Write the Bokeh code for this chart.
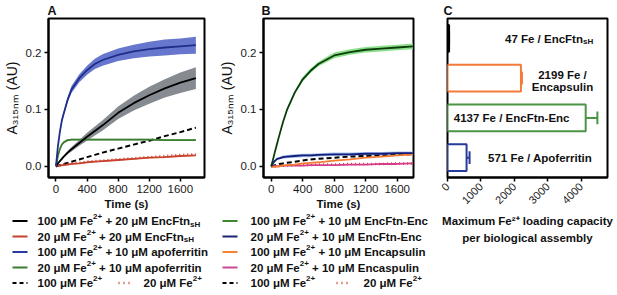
from math import pi
from bokeh.plotting import figure
from bokeh.models import (Range1d, FactorRange, Label, FixedTicker, Title,
                          PrintfTickFormatter, ColumnDataSource)
from bokeh.layouts import row, column
from bokeh.transform import dodge
from bokeh.embed import file_html
from bokeh.resources import INLINE

# ---------------------------------------------------------------- data
t = [0, 25, 50, 75, 100, 150, 200, 300, 400, 500, 600, 800, 1000, 1200, 1400, 1600, 1800]

# panel A
a_fe100_enc = [0, 0.005, 0.009, 0.013, 0.017, 0.024, 0.030, 0.041, 0.052, 0.062, 0.072, 0.094, 0.111, 0.125, 0.137, 0.147, 0.155]
a_fe100_enc_sd = [0, 0.001, 0.001, 0.002, 0.002, 0.003, 0.004, 0.005, 0.007, 0.008, 0.009, 0.011, 0.013, 0.015, 0.016, 0.018, 0.019]
a_fe20_enc = [0, 0.001, 0.001, 0.002, 0.002, 0.003, 0.004, 0.005, 0.007, 0.008, 0.009, 0.011, 0.013, 0.015, 0.016, 0.018, 0.019]
a_fe20_enc_sd = [0, 0.0005, 0.0005, 0.0005, 0.0005, 0.001, 0.001, 0.001, 0.001, 0.001, 0.001, 0.001, 0.001, 0.001, 0.001, 0.001, 0.001]
a_fe100_apo = [0, 0.035, 0.060, 0.080, 0.093, 0.117, 0.135, 0.155, 0.169, 0.180, 0.187, 0.196, 0.202, 0.206, 0.209, 0.211, 0.213]
a_fe100_apo_sd = [0, 0.002, 0.003, 0.004, 0.004, 0.005, 0.006, 0.007, 0.008, 0.009, 0.010, 0.011, 0.012, 0.013, 0.014, 0.014, 0.015]
a_fe20_apo = [0, 0.018, 0.030, 0.038, 0.042, 0.046, 0.047, 0.047, 0.047, 0.047, 0.047, 0.047, 0.047, 0.047, 0.046, 0.046, 0.046]
a_fe20_apo_sd = [0, 0.001, 0.0015, 0.0015, 0.0015, 0.0015, 0.0015, 0.0015, 0.0015, 0.0015, 0.0015, 0.0015, 0.0015, 0.0015, 0.0015, 0.0015, 0.0015]
a_fe100 = [0, 0.001, 0.002, 0.003, 0.004, 0.006, 0.008, 0.012, 0.016, 0.020, 0.024, 0.031, 0.038, 0.045, 0.053, 0.060, 0.068]
a_fe20 = [0, 0.001, 0.001, 0.002, 0.003, 0.004, 0.005, 0.006, 0.008, 0.009, 0.010, 0.012, 0.014, 0.016, 0.018, 0.020, 0.021]

# panel B
b_fe100_ee = [0, 0.013, 0.027, 0.040, 0.053, 0.078, 0.099, 0.130, 0.153, 0.168, 0.180, 0.195, 0.201, 0.205, 0.207, 0.209, 0.211]
b_fe100_ee_sd = [0, 0.001, 0.001, 0.002, 0.002, 0.002, 0.003, 0.003, 0.004, 0.004, 0.004, 0.005, 0.005, 0.005, 0.005, 0.005, 0.005]
b_fe20_ee = [0, 0.006, 0.010, 0.013, 0.014, 0.016, 0.017, 0.018, 0.019, 0.019, 0.020, 0.021, 0.021, 0.022, 0.022, 0.023, 0.023]
b_fe20_ee_sd = [0, 0.001, 0.002, 0.002, 0.002, 0.003, 0.003, 0.003, 0.003, 0.003, 0.003, 0.003, 0.003, 0.003, 0.003, 0.003, 0.003]
b_fe100_encap = [-0.001, -0.001, -0.001, 0, 0, 0.001, 0.002, 0.003, 0.005, 0.006, 0.007, 0.010, 0.012, 0.015, 0.017, 0.019, 0.021]
b_fe20_encap = [0, 0, 0, 0, 0, 0.001, 0.001, 0.001, 0.001, 0.002, 0.002, 0.002, 0.003, 0.003, 0.004, 0.004, 0.005]
b_fe100 = [0, 0.001, 0.002, 0.003, 0.004, 0.005, 0.006, 0.008, 0.010, 0.012, 0.013, 0.015, 0.017, 0.018, 0.019, 0.020, 0.021]
b_fe20 = [0, 0, 0, 0.001, 0.001, 0.001, 0.001, 0.002, 0.002, 0.002, 0.003, 0.003, 0.004, 0.004, 0.004, 0.005, 0.005]

time_ticks = [0, 400, 800, 1200, 1600]
abs_ticks = [0.0, 0.1, 0.2]

# panel C
c_cats = ["Apoferritin", "EncFtn-Enc", "Encapsulin", "EncFtnsH"]
c_loads = [571, 4137, 2199, 47]
c_errs = [90, 350, 30, 0]
c_ticks = [0, 1000, 2000, 3000, 4000]

# ---------------------------------------------------------------- styles
FONT = "Liberation Sans"
TS = 11.5
SS = 8
TXT = "#111111"
FE_SUP = "Fe\u00b2\u207a"

BOLD_W = {" ": 278, "(": 333, ")": 333, "+": 584, "-": 333, ".": 278, "/": 278,
          "A": 722, "E": 667, "F": 611, "H": 722, "M": 833, "T": 611, "U": 722, "C": 722,
          "a": 556, "b": 611, "c": 556, "d": 611, "e": 556, "f": 333, "g": 611, "i": 278,
          "l": 278, "m": 889, "n": 611, "o": 611, "p": 611, "r": 389, "s": 556, "t": 333,
          "u": 611, "x": 556, "y": 556, "μ": 611}


def text_w(s, size):
    return sum(BOLD_W.get(ch, 556) for ch in s) * size / 1000.0


class Mapper:
    """page pixel -> data coordinates of one figure's frame"""
    def __init__(self, fx0, fx1, fy0, fy1, xr, yr):
        self.fx0, self.fx1, self.fy0, self.fy1 = fx0, fx1, fy0, fy1
        self.xr, self.yr = xr, yr

    def __call__(self, px, py):
        x = self.xr[0] + (px - self.fx0) / (self.fx1 - self.fx0) * (self.xr[1] - self.xr[0])
        y = self.yr[0] + (self.fy1 - py) / (self.fy1 - self.fy0) * (self.yr[1] - self.yr[0])
        return x, y


def rich(p, m, px, py, pieces, align="left"):
    widths = [text_w(s, TS if k == "n" else SS) for s, k in pieces]
    total = sum(widths)
    if align == "center":
        px -= total / 2
    elif align == "right":
        px -= total
    x = px
    for (s, k), w in zip(pieces, widths):
        fs = TS if k == "n" else SS
        dy = {"n": 0, "sup": -4.5, "sub": 3}[k]
        st = s.lstrip(" ")
        xs = x + (len(s) - len(st)) * BOLD_W[" "] * fs / 1000.0
        dx, dyv = m(xs, py + dy)
        p.add_layout(Label(x=dx, y=dyv, text=st, text_font=FONT,
                           text_font_size=f"{fs}px", text_font_style="bold",
                           text_baseline="middle", text_align="left", text_color=TXT))
        x += w


def set_letter(p, s, offset):
    p.title.text = s
    p.title.align = "left"
    p.title.offset = offset
    p.title.standoff = 2
    p.title.text_font = FONT
    p.title.text_font_size = "12.5px"
    p.title.text_font_style = "bold"
    p.title.text_color = TXT


def style_axes(p):
    for ax in p.axis:
        ax.major_tick_in = 0
        ax.major_tick_out = 4
        ax.minor_tick_line_color = None
        ax.axis_line_width = 2
        ax.major_tick_line_width = 1.5
        ax.major_label_text_font = FONT
        ax.major_label_text_font_size = "11.5px"
        ax.major_label_text_color = "#1a1a1a"
        ax.major_label_standoff = 3


TOP = 17
TOP_H = 212          # height of the two kinetics figures
Y0, Y1 = -0.0198, 0.26


def kinetics_fig(width, left, right, xr, letter, loff):
    p = figure(width=width, height=TOP_H, x_range=Range1d(*xr), y_range=Range1d(Y0, Y1),
               output_backend="svg", toolbar_location=None,
               min_border_left=left, min_border_right=right,
               min_border_top=TOP, min_border_bottom=TOP_H - 177)
    p.grid.visible = False
    p.outline_line_color = "black"
    p.outline_line_width = 2
    p.xaxis.ticker = FixedTicker(ticks=time_ticks)
    p.yaxis.ticker = FixedTicker(ticks=abs_ticks)
    p.yaxis.formatter = PrintfTickFormatter(format="%.1f")
    style_axes(p)
    p.xaxis.axis_label = "Time (s)"
    p.xaxis.axis_label_text_font = FONT
    p.xaxis.axis_label_text_font_size = "11.5px"
    p.xaxis.axis_label_text_font_style = "bold"
    p.xaxis.axis_label_text_color = TXT
    p.xaxis.axis_label_standoff = 2
    p.yaxis.axis_label = "A\u2083\u2081\u2085\u2099\u2098 (AU)"
    p.yaxis.axis_label_text_font = FONT
    p.yaxis.axis_label_text_font_size = "14px"
    p.yaxis.axis_label_text_font_style = "normal"
    p.yaxis.axis_label_text_color = TXT
    p.yaxis.axis_label_standoff = 3
    set_letter(p, letter, loff)
    return p


def band(p, y, sd, color, alpha):
    lo = [a - b for a, b in zip(y, sd)]
    hi = [a + b for a, b in zip(y, sd)]
    p.varea(x=t, y1=lo, y2=hi, fill_color=color, fill_alpha=alpha)


# ---------------------------------------------------------------- panel A
AX = (-96, 1911)
pa = kinetics_fig(215, 43, 11, AX, "A", -1)
band(pa, a_fe100_enc, a_fe100_enc_sd, "#7f858c", 0.95)
band(pa, a_fe100_apo, a_fe100_apo_sd, "#5668c8", 0.9)
band(pa, a_fe20_apo, a_fe20_apo_sd, "#7fb07a", 0.8)
band(pa, a_fe20_enc, a_fe20_enc_sd, "#e08a7a", 0.8)
pa.line(t, a_fe100, line_color="black", line_width=2, line_dash="5 3")
pa.line(t, a_fe20, line_color="#c8412c", line_width=2.5, line_dash="1 3")
pa.line(t, a_fe20_enc, line_color="#c8412c", line_width=1.8)
pa.line(t, a_fe20_apo, line_color="#3b7d30", line_width=1.8)
pa.line(t, a_fe100_enc, line_color="black", line_width=1.8)
pa.line(t, a_fe100_apo, line_color="#1f2e8a", line_width=1.8)

# ---------------------------------------------------------------- panel B
BX = (-98, 1807)
pb = kinetics_fig(217, 42, 19, BX, "B", -2)
band(pb, b_fe100_ee, b_fe100_ee_sd, "#86de86", 0.95)
band(pb, b_fe20_ee, b_fe20_ee_sd, "#9fbfee", 0.95)
pb.line(t, b_fe100, line_color="black", line_width=2, line_dash="5 3")
pb.line(t, b_fe20, line_color="#c8412c", line_width=2.5, line_dash="1 3")
pb.line(t, b_fe20_encap, line_color="#d63a8a", line_width=1.8)
pb.line(t, b_fe100_encap, line_color="#f47c32", line_width=1.8)
pb.line(t, b_fe20_ee, line_color="#141c78", line_width=1.8)
pb.line(t, b_fe100_ee, line_color="#0b3d0b", line_width=1.8)

# ---------------------------------------------------------------- legends (own text panel)
LEG_H = 295 - TOP_H
lab = figure(width=432, height=LEG_H, x_range=Range1d(0, 432), y_range=Range1d(0, LEG_H),
             output_backend="svg", toolbar_location=None, x_axis_type=None, y_axis_type=None,
             min_border=0, min_border_left=0, min_border_right=0,
             min_border_top=0, min_border_bottom=0)
lab.grid.visible = False
lab.outline_line_color = None
ml = Mapper(0, 432, TOP_H, 295, (0, 432), (0, LEG_H))
rows_y = [220.5, 236, 251.5, 267, 282.5]


def sample(x0, x1, y, color, dash, lw=2):
    a = ml(x0, y)
    b = ml(x1, y)
    lab.line([a[0], b[0]], [a[1], b[1]], line_color=color, line_width=lw, line_dash=dash)


def fe(n):
    return [(f"{n} μM Fe", "n"), ("2+", "sup")]


legend_a = [
    ("#000000", fe(100) + [(" + 20 μM EncFtn", "n"), ("sH", "sub")]),
    ("#c8412c", fe(20) + [(" + 20 μM EncFtn", "n"), ("sH", "sub")]),
    ("#2b3aa0", fe(100) + [(" + 10 μM apoferritin", "n")]),
    ("#3b7d30", fe(20) + [(" + 10 μM apoferritin", "n")]),
]
legend_b = [
    ("#3b8a2e", fe(100) + [(" + 10 μM EncFtn-Enc", "n")]),
    ("#1d2473", fe(20) + [(" + 10 μM EncFtn-Enc", "n")]),
    ("#f4842f", fe(100) + [(" + 10 μM Encapsulin", "n")]),
    ("#c94b96", fe(20) + [(" + 10 μM Encaspulin", "n")]),
]
for (x_line, x_text, x_dot, x_dtext, entries) in ((12, 37, 118, 143, legend_a),
                                                  (222, 250, 336, 363, legend_b)):
    for (col, pieces), y in zip(entries, rows_y):
        sample(x_line, x_line + 15, y, col, "solid")
        rich(lab, ml, x_text, y, pieces)
    sample(x_line, x_line + 15, rows_y[4], "black", "4 3")
    rich(lab, ml, x_text, rows_y[4], fe(100))
    sample(x_dot, x_dot + 15, rows_y[4], "#c8412c", "1 4", lw=2.5)
    rich(lab, ml, x_dtext, rows_y[4], fe(20))

# ---------------------------------------------------------------- panel C
CX = (0, 4790)
pc = figure(width=185, height=295, x_range=Range1d(*CX), y_range=FactorRange(factors=c_cats),
            output_backend="svg", toolbar_location=None,
            min_border_left=15, min_border_right=10, min_border_top=TOP, min_border_bottom=118)
mc = Mapper(447, 607, TOP, 177, CX, (0, 4))
pc.grid.visible = False
pc.outline_line_color = "black"
pc.outline_line_width = 2
src = ColumnDataSource(dict(
    cat=c_cats, load=c_loads,
    upper=[a + b for a, b in zip(c_loads, c_errs)],
    color=["#273c9a", "#4b9445", "#f47a38", "#000000"],
    fill=["white", "white", "white", "#000000"]))
pc.hbar(y="cat", right="load", height=0.67, fill_color="fill", line_color="color",
        line_width=2, source=src)
pc.segment(x0="load", x1="upper", y0="cat", y1="cat", line_color="color", line_width=2, source=src)
pc.segment(x0="upper", x1="upper",
           y0=dodge("cat", -0.16, range=pc.y_range), y1=dodge("cat", 0.16, range=pc.y_range),
           line_color="color", line_width=2, source=src)
pc.xaxis.ticker = FixedTicker(ticks=c_ticks)
style_axes(pc)
pc.xaxis.major_label_orientation = pi / 4
pc.xaxis.major_label_text_font_size = "11px"
pc.yaxis.visible = False
set_letter(pc, "C", -4)

rich(pc, mc, 592.7, 37.5, [("47 Fe / EncFtn", "n"), ("sH", "sub")], align="right")
rich(pc, mc, 562, 73.5, [("2199 Fe /", "n")], align="center")
rich(pc, mc, 562, 86, [("Encapsulin", "n")], align="center")
rich(pc, mc, 453.3, 117.5, [("4137 Fe / EncFtn-Enc", "n")])
rich(pc, mc, 591.7, 157.5, [("571 Fe / Apoferritin", "n")], align="right")

for txt, so in ((f"Maximum {FE_SUP} loading capacity", 5), ("per biological assembly", 1)):
    pc.add_layout(Title(text=txt, align="center", standoff=so, text_font=FONT,
                        text_font_size="11.5px", text_font_style="bold", text_color=TXT), "below")

layout = row(column(row(pa, pb), lab), pc)
open("out.html", "w").write(file_html(layout, INLINE))
